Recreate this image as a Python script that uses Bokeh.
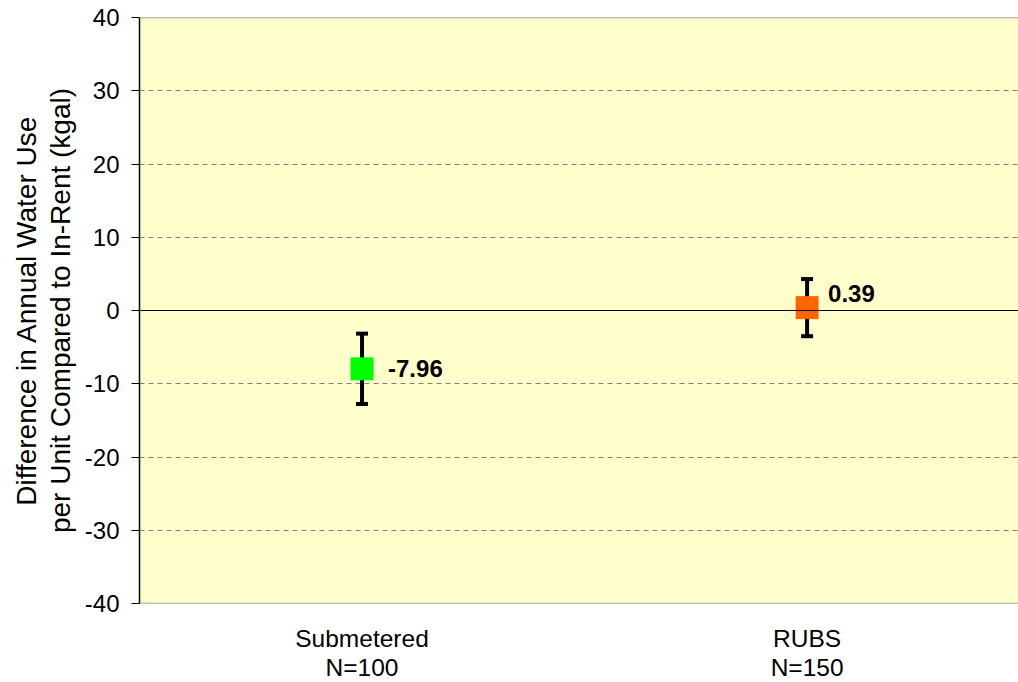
from bokeh.plotting import figure
from bokeh.models import (Range1d, FixedTicker, ColumnDataSource, Whisker, TeeHead, Span)
from bokeh.embed import file_html
from bokeh.resources import INLINE
from bokeh.core.properties import value

# ---- data ----
categories = ["Submetered", "RUBS"]
sample_sizes = ["N=100", "N=150"]
differences = [-7.96, 0.39]
ci_lower = [-12.76, -3.51]
ci_upper = [-3.16, 4.29]
point_colors = ["#00FF00", "#FF6600"]
label_texts = ["-7.96", "0.39"]
y_ticks = [-40, -30, -20, -10, 0, 10, 20, 30, 40]

# styles
label_dx = [26, 21]
label_dy = [0, -14]

xs = [i + 0.5 for i in range(len(categories))]

p = figure(frame_width=879, frame_height=586, output_backend="svg", toolbar_location=None,
           x_range=Range1d(0, 1.975), y_range=Range1d(-40, 40),
           min_border_left=139, min_border_top=17, min_border_bottom=79, min_border_right=0)

p.background_fill_color = "#FFFFCC"
p.border_fill_color = "white"
p.outline_line_color = None

# grid
p.xgrid.grid_line_color = None
p.ygrid.ticker = FixedTicker(ticks=[t for t in y_ticks if t not in (0, -40, 40)])
p.ygrid.grid_line_color = "#808080"
p.ygrid.grid_line_dash = "5 4"
p.ygrid.grid_line_width = 1
p.add_layout(Span(location=0, dimension="width", line_color="black", line_width=1))
p.add_layout(Span(location=y_ticks[-1], dimension="width", line_color="#808080", line_width=1.5))
p.add_layout(Span(location=y_ticks[0], dimension="width", line_color="#808080", line_width=1.5))

# y axis
p.yaxis.ticker = FixedTicker(ticks=y_ticks)
p.yaxis.major_label_overrides = {t: str(t) for t in y_ticks}
p.yaxis.minor_tick_line_color = None
p.yaxis.major_tick_in = 0
p.yaxis.major_tick_out = 8
p.yaxis.major_tick_line_color = "black"
p.yaxis.axis_line_color = "black"
p.yaxis.axis_line_width = 1.5
p.yaxis.major_label_standoff = 12
p.yaxis.major_label_text_font = "Liberation Sans"
p.yaxis.major_label_text_font_size = "24px"
p.yaxis.major_label_text_color = "black"
p.yaxis.axis_label = "Difference in Annual Water Use\nper Unit Compared to In-Rent (kgal)"
p.yaxis.axis_label_text_font = "Liberation Sans"
p.yaxis.axis_label_text_font_size = "28px"
p.yaxis.axis_label_text_font_style = "normal"
p.yaxis.axis_label_text_color = "black"
p.yaxis.axis_label_text_line_height = 1.1
p.yaxis.axis_label_standoff = 6

# x axis
p.xaxis.ticker = FixedTicker(ticks=xs)
p.xaxis.major_label_overrides = {x: f"{c}\n{n}" for x, c, n in zip(xs, categories, sample_sizes)}
p.xaxis.axis_line_color = None
p.xaxis.major_tick_line_color = None
p.xaxis.major_tick_in = 0
p.xaxis.major_tick_out = 0
p.xaxis.minor_tick_line_color = None
p.xaxis.major_label_standoff = 21
p.xaxis.major_label_text_font = "Liberation Sans"
p.xaxis.major_label_text_font_size = "24.5px"
p.xaxis.major_label_text_line_height = 1.1
p.xaxis.major_label_text_color = "black"

src = ColumnDataSource(dict(x=xs, y=differences, lo=ci_lower, hi=ci_upper,
                            color=point_colors, label=label_texts,
                            dx=label_dx, dy=label_dy))

w = Whisker(source=src, base="x", upper="hi", lower="lo", dimension="height",
            line_color="black", line_width=4,
            upper_head=TeeHead(size=12, line_width=4, line_color="black"),
            lower_head=TeeHead(size=12, line_width=4, line_color="black"))
p.add_layout(w)

p.scatter(x="x", y="y", source=src, marker="square", size=23,
          fill_color="color", line_color=None)

p.text(x="x", y="y", text="label", source=src, x_offset="dx", y_offset="dy",
       text_font=value("Liberation Sans"), text_font_style="bold",
       text_font_size="24px", text_baseline="middle", text_align="left",
       text_color="black")

open("out.html", "w").write(file_html(p, INLINE))
